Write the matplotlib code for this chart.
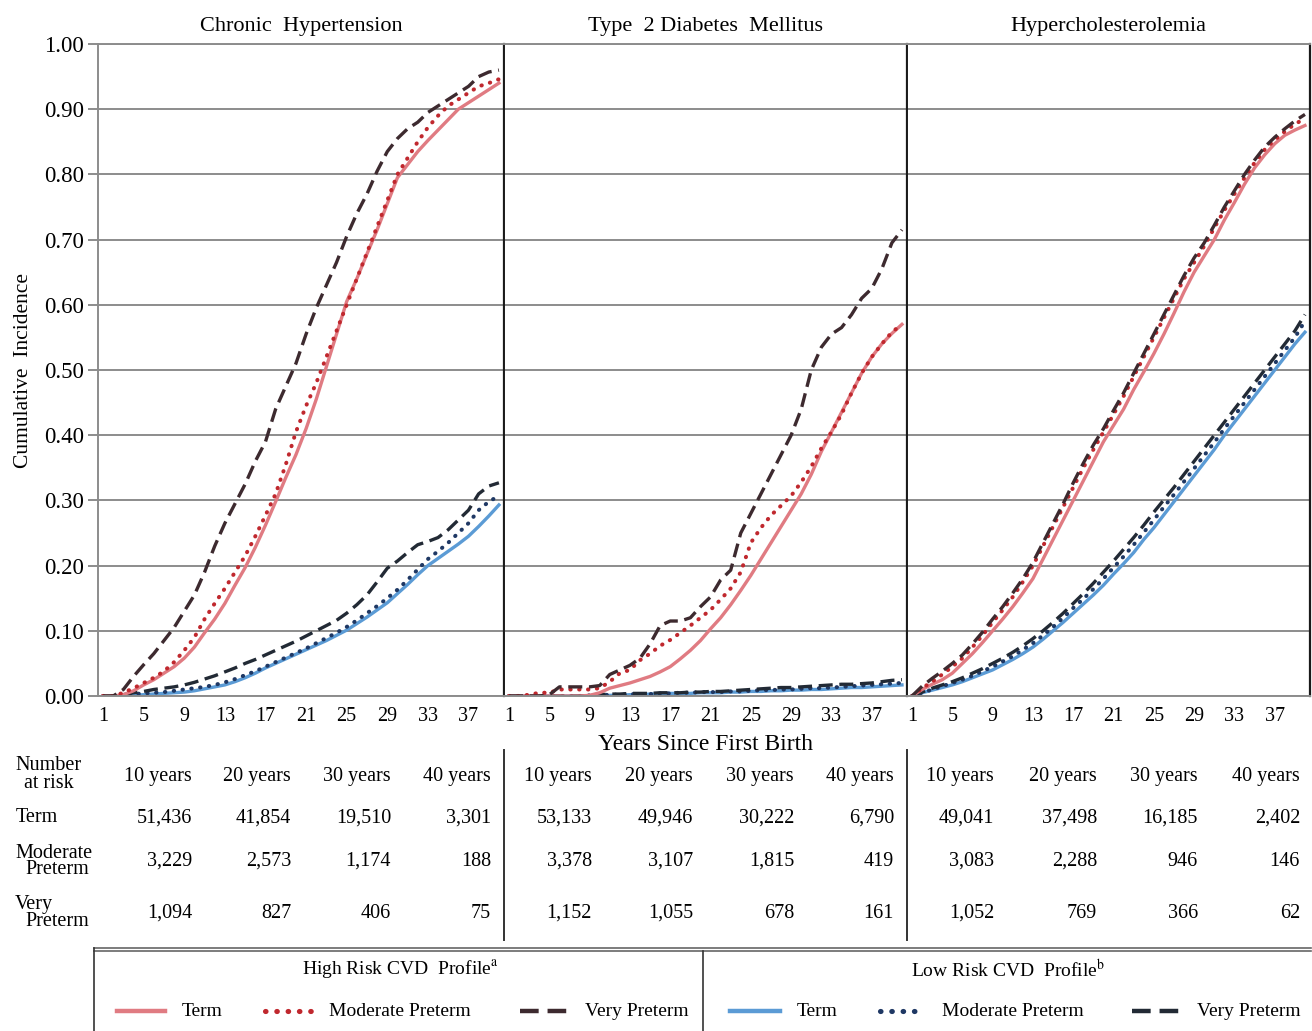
import matplotlib
matplotlib.use("Agg")
import matplotlib.pyplot as plt
from matplotlib.lines import Line2D
import numpy as np

plt.rcParams['font.family'] = ['Liberation Serif', 'DejaVu Serif']
plt.rcParams['mathtext.fontset'] = 'stix'

W, H = 1312, 1031

# ----------------------------------------------------------------------------
# Data
# ----------------------------------------------------------------------------
years = list(range(1, 41))
panel_titles = ['Chronic  Hypertension', 'Type  2 Diabetes  Mellitus', 'Hypercholesterolemia']

htn_high_term = [0, 0, 0.002, 0.008, 0.017, 0.025, 0.035, 0.045, 0.058, 0.075, 0.097, 0.118, 0.142,
                 0.17, 0.197, 0.228, 0.262, 0.298, 0.335, 0.37, 0.41, 0.455, 0.505, 0.555, 0.605,
                 0.64, 0.678, 0.715, 0.755, 0.795, 0.815, 0.835, 0.852, 0.868, 0.884, 0.9, 0.91,
                 0.92, 0.93, 0.94]
htn_high_mod = [0, 0, 0.005, 0.012, 0.02, 0.028, 0.038, 0.052, 0.07, 0.09, 0.118, 0.142, 0.165,
                0.19, 0.215, 0.245, 0.277, 0.31, 0.355, 0.405, 0.445, 0.48, 0.52, 0.56, 0.6, 0.64,
                0.68, 0.72, 0.76, 0.8, 0.825, 0.85, 0.872, 0.89, 0.905, 0.915, 0.925, 0.935, 0.94,
                0.946]
htn_high_very = [0, 0, 0.01, 0.03, 0.048, 0.065, 0.085, 0.105, 0.13, 0.155, 0.19, 0.23, 0.265,
                 0.295, 0.325, 0.36, 0.39, 0.44, 0.475, 0.51, 0.555, 0.595, 0.63, 0.665, 0.705,
                 0.74, 0.77, 0.805, 0.835, 0.855, 0.87, 0.88, 0.895, 0.905, 0.915, 0.925, 0.935,
                 0.95, 0.957, 0.96]
htn_low_term = [0, 0, 0, 0.001, 0.002, 0.003, 0.004, 0.005, 0.006, 0.008, 0.011, 0.014, 0.017,
                0.022, 0.028, 0.035, 0.043, 0.05, 0.057, 0.064, 0.071, 0.078, 0.085, 0.093, 0.101,
                0.111, 0.121, 0.132, 0.143, 0.157, 0.171, 0.186, 0.2, 0.211, 0.222, 0.233, 0.245,
                0.26, 0.276, 0.293]
htn_low_mod = [0, 0, 0.001, 0.003, 0.004, 0.005, 0.006, 0.008, 0.01, 0.012, 0.014, 0.017, 0.021,
               0.026, 0.032, 0.038, 0.045, 0.052, 0.059, 0.066, 0.073, 0.081, 0.089, 0.097, 0.106,
               0.116, 0.127, 0.138, 0.15, 0.163, 0.178, 0.194, 0.21, 0.222, 0.235, 0.25, 0.265,
               0.285, 0.298, 0.307]
htn_low_very = [0, 0, 0.002, 0.005, 0.007, 0.01, 0.012, 0.014, 0.017, 0.021, 0.026, 0.031, 0.037,
                0.043, 0.05, 0.056, 0.063, 0.07, 0.077, 0.084, 0.092, 0.1, 0.108, 0.116, 0.127,
                0.14, 0.155, 0.175, 0.196, 0.207, 0.22, 0.232, 0.237, 0.243, 0.255, 0.27, 0.285,
                0.31, 0.322, 0.327]

t2d_high_term = [0, 0, 0, 0, 0, 0, 0, 0, 0.001, 0.005, 0.012, 0.016, 0.02, 0.025, 0.03, 0.037,
                 0.045, 0.057, 0.07, 0.085, 0.103, 0.12, 0.14, 0.162, 0.185, 0.21, 0.235, 0.26,
                 0.285, 0.31, 0.34, 0.375, 0.405, 0.435, 0.465, 0.495, 0.52, 0.54, 0.556, 0.57]
t2d_high_mod = [0, 0, 0.002, 0.005, 0.005, 0.01, 0.01, 0.01, 0.01, 0.012, 0.022, 0.035, 0.04,
                0.055, 0.065, 0.077, 0.086, 0.097, 0.108, 0.12, 0.132, 0.148, 0.165, 0.19, 0.235,
                0.258, 0.277, 0.292, 0.307, 0.328, 0.352, 0.38, 0.405, 0.432, 0.465, 0.495, 0.52,
                0.54, 0.558, 0.57]
t2d_high_very = [0, 0, 0, 0, 0.002, 0.014, 0.014, 0.014, 0.014, 0.016, 0.033, 0.04, 0.047, 0.058,
                 0.08, 0.108, 0.115, 0.115, 0.12, 0.137, 0.152, 0.178, 0.193, 0.25, 0.28, 0.31,
                 0.34, 0.37, 0.4, 0.44, 0.5, 0.535, 0.555, 0.565, 0.585, 0.61, 0.625, 0.655, 0.695,
                 0.715]
t2d_low_term = [0, 0, 0, 0, 0, 0, 0, 0, 0, 0, 0.001, 0.001, 0.002, 0.002, 0.003, 0.003, 0.004,
                0.004, 0.004, 0.005, 0.005, 0.005, 0.006, 0.006, 0.007, 0.007, 0.008, 0.008, 0.009,
                0.009, 0.01, 0.01, 0.011, 0.012, 0.013, 0.013, 0.014, 0.015, 0.016, 0.017]
t2d_low_mod = [0, 0, 0, 0, 0, 0, 0, 0, 0.001, 0.001, 0.002, 0.002, 0.003, 0.003, 0.003, 0.004,
               0.004, 0.005, 0.005, 0.006, 0.006, 0.006, 0.007, 0.007, 0.008, 0.009, 0.009, 0.01,
               0.01, 0.011, 0.012, 0.012, 0.013, 0.014, 0.015, 0.016, 0.017, 0.018, 0.019, 0.02]
t2d_low_very = [0, 0, 0, 0, 0, 0, 0, 0, 0.001, 0.002, 0.003, 0.003, 0.004, 0.004, 0.004, 0.005,
                0.005, 0.005, 0.006, 0.006, 0.007, 0.007, 0.008, 0.009, 0.01, 0.011, 0.012, 0.013,
                0.013, 0.014, 0.015, 0.016, 0.017, 0.018, 0.018, 0.019, 0.02, 0.022, 0.024, 0.025]

hc_high_term = [0, 0.01, 0.018, 0.025, 0.035, 0.05, 0.065, 0.082, 0.1, 0.118, 0.137, 0.158, 0.18,
                0.21, 0.24, 0.27, 0.3, 0.33, 0.36, 0.39, 0.415, 0.44, 0.47, 0.497, 0.525, 0.555,
                0.587, 0.62, 0.65, 0.675, 0.7, 0.73, 0.757, 0.785, 0.81, 0.83, 0.847, 0.86, 0.868,
                0.875]
hc_high_mod = [0, 0.012, 0.022, 0.033, 0.045, 0.058, 0.075, 0.093, 0.113, 0.132, 0.152, 0.175,
               0.2, 0.23, 0.26, 0.29, 0.32, 0.35, 0.378, 0.405, 0.432, 0.46, 0.49, 0.52, 0.55,
               0.58, 0.61, 0.64, 0.665, 0.69, 0.718, 0.745, 0.77, 0.795, 0.818, 0.838, 0.853,
               0.866, 0.877, 0.886]
hc_high_very = [0, 0.015, 0.027, 0.038, 0.05, 0.063, 0.08, 0.098, 0.118, 0.137, 0.158, 0.18,
                0.205, 0.235, 0.265, 0.295, 0.327, 0.357, 0.385, 0.41, 0.438, 0.465, 0.495, 0.525,
                0.555, 0.585, 0.615, 0.645, 0.672, 0.695, 0.722, 0.75, 0.775, 0.8, 0.822, 0.842,
                0.857, 0.87, 0.882, 0.892]
hc_low_term = [0, 0.005, 0.009, 0.013, 0.017, 0.022, 0.028, 0.034, 0.04, 0.048, 0.056, 0.065,
               0.075, 0.087, 0.1, 0.113, 0.127, 0.141, 0.155, 0.17, 0.187, 0.203, 0.22, 0.24,
               0.258, 0.278, 0.298, 0.318, 0.338, 0.358, 0.378, 0.4, 0.42, 0.44, 0.46, 0.48, 0.5,
               0.52, 0.54, 0.558]
hc_low_mod = [0, 0.005, 0.01, 0.015, 0.02, 0.025, 0.031, 0.038, 0.045, 0.053, 0.061, 0.071, 0.081,
              0.093, 0.106, 0.12, 0.135, 0.149, 0.164, 0.18, 0.197, 0.214, 0.232, 0.251, 0.27,
              0.29, 0.309, 0.329, 0.349, 0.369, 0.389, 0.41, 0.43, 0.45, 0.47, 0.49, 0.51, 0.53,
              0.55, 0.575]
hc_low_very = [0, 0.006, 0.012, 0.017, 0.022, 0.028, 0.035, 0.042, 0.05, 0.058, 0.067, 0.077,
               0.088, 0.1, 0.113, 0.127, 0.142, 0.157, 0.173, 0.19, 0.207, 0.225, 0.243, 0.262,
               0.282, 0.301, 0.32, 0.34, 0.36, 0.38, 0.4, 0.42, 0.44, 0.46, 0.48, 0.5, 0.52, 0.54,
               0.56, 0.585]

# Number at risk table
risk_cols = ['10 years', '20 years', '30 years', '40 years']
risk_rows = [('Term', None), ('Moderate', 'Preterm'), ('Very', 'Preterm')]
risk_htn = [['51,436', '41,854', '19,510', '3,301'],
            ['3,229', '2,573', '1,174', '188'],
            ['1,094', '827', '406', '75']]
risk_t2d = [['53,133', '49,946', '30,222', '6,790'],
            ['3,378', '3,107', '1,815', '419'],
            ['1,152', '1,055', '678', '161']]
risk_hc = [['49,041', '37,498', '16,185', '2,402'],
           ['3,083', '2,288', '946', '146'],
           ['1,052', '769', '366', '62']]

series_labels = ['Term', 'Moderate Preterm', 'Very Preterm']

# ----------------------------------------------------------------------------
# Styles
# ----------------------------------------------------------------------------
HIGH_COLORS = ['#E07B82', '#C0282E', '#3D2A2F']
LOW_COLORS = ['#5B9BD5', '#1F3864', '#222A35']
LW = [2.4, 2.9, 2.4]
STYLES = [dict(linestyle='-'),
          dict(linestyle=(0, (0.1, 2.1)), dash_capstyle='round'),
          dict(linestyle=(0, (4.2, 2.0)))]
GRID = '#8C8C8C'


def fx(px):
    return px / W


def fy(py):
    return 1 - py / H


fig = plt.figure(figsize=(W / 100, H / 100), dpi=100)

panel_edges = [(98, 504), (504, 907), (907, 1310)]
top_px, bot_px = 44, 696
panels = [
    (htn_high_term, htn_high_mod, htn_high_very, htn_low_term, htn_low_mod, htn_low_very),
    (t2d_high_term, t2d_high_mod, t2d_high_very, t2d_low_term, t2d_low_mod, t2d_low_very),
    (hc_high_term, hc_high_mod, hc_high_very, hc_low_term, hc_low_mod, hc_low_very),
]

for i, ((l, r), data, title) in enumerate(zip(panel_edges, panels, panel_titles)):
    ax = fig.add_axes([fx(l), fy(bot_px), fx(r - l), (bot_px - top_px) / H])
    ax.set_xlim(0.5, 40.5)
    ax.set_ylim(0, 1.0)
    ax.set_yticks(np.arange(0, 1.01, 0.1))
    ax.grid(axis='y', color=GRID, linewidth=1.4)
    ax.set_axisbelow(True)
    ax.set_xticks(range(1, 41, 4))
    ax.tick_params(axis='x', length=0, labelsize=14.5, pad=8)
    if i == 0:
        ax.set_yticklabels([f'{v:.2f}' for v in np.arange(0, 1.01, 0.1)])
        ax.tick_params(axis='y', length=7, color=GRID, width=1.4, labelsize=16.5, pad=3)
        ax.set_ylabel('Cumulative  Incidence', fontsize=15.5, labelpad=8)
    else:
        ax.tick_params(axis='y', length=0, labelleft=False)
    for s in ['top', 'bottom']:
        ax.spines[s].set_color(GRID)
        ax.spines[s].set_linewidth(1.4)
    ax.spines['left'].set_color(GRID if i == 0 else '#1a1a1a')
    ax.spines['left'].set_linewidth(1.4)
    ax.spines['right'].set_color('#1a1a1a')
    ax.spines['right'].set_linewidth(1.6)
    ax.set_title(title, fontsize=16, pad=9)

    # low-risk curves drawn first, high-risk on top
    for k in range(3):
        ax.plot(years, data[3 + k], color=LOW_COLORS[k], linewidth=LW[k], **STYLES[k])
    for k in range(3):
        ax.plot(years, data[k], color=HIGH_COLORS[k], linewidth=LW[k], **STYLES[k])

fig.text(fx(705), fy(745), 'Years Since First Birth', ha='center', va='center', fontsize=17)

# ----------------------------------------------------------------------------
# Number at risk table
# ----------------------------------------------------------------------------
TFS = 14.5
col_right = [[192, 291, 391, 491], [592, 693, 794, 894], [994, 1097, 1198, 1300]]
row_y = [818, 861, 913]
fig.text(fx(48), fy(766), 'Number', ha='center', va='center', fontsize=TFS)
fig.text(fx(49), fy(784), 'at risk', ha='center', va='center', fontsize=TFS)
for cols, table in zip(col_right, [risk_htn, risk_t2d, risk_hc]):
    for cx, head in zip(cols, risk_cols):
        fig.text(fx(cx), fy(777), head, ha='right', va='center', fontsize=TFS)
    for ry, row in zip(row_y, table):
        for cx, val in zip(cols, row):
            fig.text(fx(cx), fy(ry), val, ha='right', va='center', fontsize=TFS)
for ry, (first, second) in zip(row_y, risk_rows):
    if second is None:
        fig.text(fx(16), fy(ry), first, ha='left', va='center', fontsize=TFS)
    else:
        fig.text(fx(15), fy(ry - 8), first, ha='left', va='center', fontsize=TFS)
        fig.text(fx(25), fy(ry + 9), second, ha='left', va='center', fontsize=TFS)

for vx in (504, 907):
    fig.add_artist(Line2D([fx(vx), fx(vx)], [fy(750), fy(940)], color='#333333', linewidth=1.4))

# ----------------------------------------------------------------------------
# Legend box
# ----------------------------------------------------------------------------
box_l, box_r, box_t, box_b = 94, 1311, 948, 1031
fig.add_artist(Line2D([fx(box_l), fx(box_r)], [fy(box_t), fy(box_t)], color='#666666', linewidth=1.2))
fig.add_artist(Line2D([fx(box_l), fx(box_r)], [fy(box_t + 3), fy(box_t + 3)], color='#666666', linewidth=1.2))
fig.add_artist(Line2D([fx(box_l), fx(box_l)], [fy(box_t), fy(box_b)], color='#333333', linewidth=1.2))
fig.add_artist(Line2D([fx(703), fx(703)], [fy(box_t + 3), fy(box_b)], color='#333333', linewidth=1.2))

LFS = 14
fig.text(fx(400), fy(970), r'High Risk CVD  Profile$^{\mathrm{a}}$', ha='center', va='center', fontsize=LFS)
fig.text(fx(1008), fy(970), r'Low Risk CVD  Profile$^{\mathrm{b}}$', ha='center', va='center', fontsize=LFS)

leg_y = 1011
leg_x = [[(117, 165), (265, 312), (520, 568)], [(730, 780), (880, 925), (1132, 1180)]]
for colors, xs in zip([HIGH_COLORS, LOW_COLORS], leg_x):
    for k, (x0, x1) in enumerate(xs):
        fig.add_artist(Line2D([fx(x0), fx(x1)], [fy(leg_y), fy(leg_y)], color=colors[k],
                              linewidth=LW[k] + 0.8, **STYLES[k]))
        fig.text(fx(x1 + 17), fy(leg_y), series_labels[k], ha='left', va='center', fontsize=LFS)

fig.savefig('out.png', dpi=100)
